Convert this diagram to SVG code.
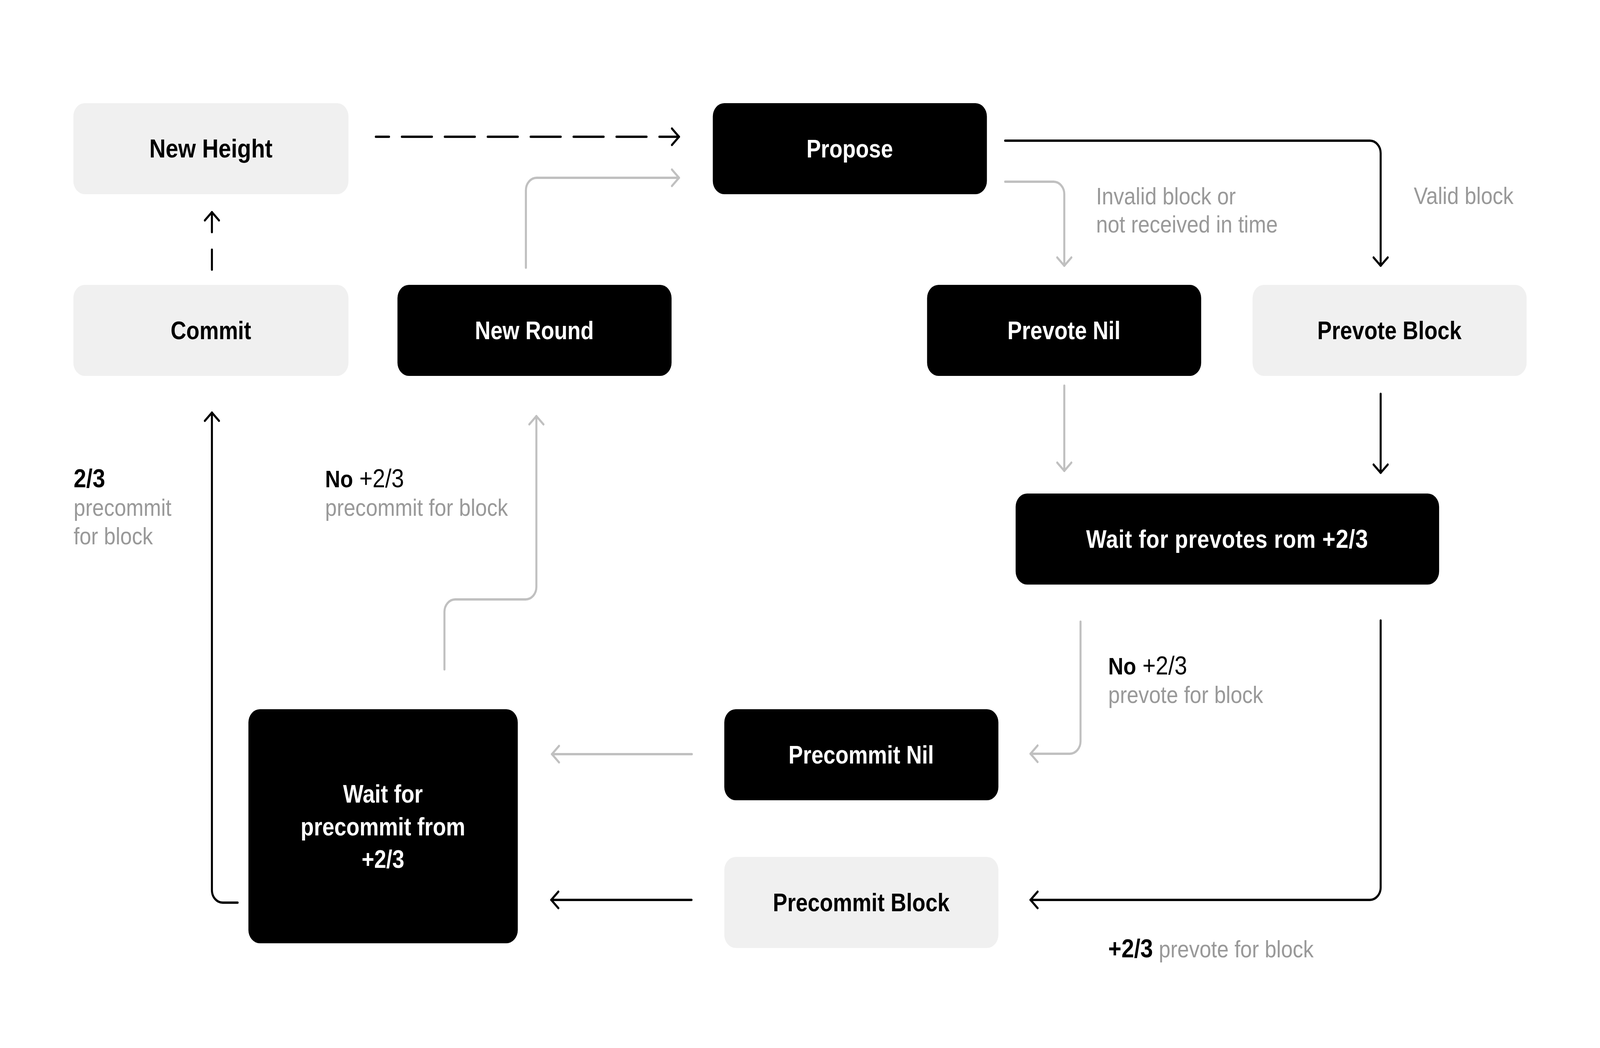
<svg xmlns="http://www.w3.org/2000/svg" width="4734" height="2682" viewBox="0 0 4734 2682" preserveAspectRatio="none">
<style>
svg{width:100vw;height:100vh}
.light{fill:#f0f0f0}
.dark{fill:#000}
.nt{font-family:"Liberation Sans",Arial,sans-serif;font-size:64px;font-weight:bold;text-anchor:middle}
.nt.w{fill:#fff}
.nt.b{fill:#000}
.lbl{font-family:"Liberation Sans",Arial,sans-serif;font-size:62px;fill:#999}
.bk{fill:#000}
.bold{font-weight:bold}
.num{font-size:67px}
.c{fill:none;stroke-width:6;stroke-linecap:round;stroke-linejoin:round}
.cb{stroke:#000;marker-end:url(#ab)}
.cg{stroke:#c0c0c0;marker-end:url(#ag)}
</style>
<defs>
<marker id="ab" markerUnits="userSpaceOnUse" viewBox="-30 -30 60 60" markerWidth="60" markerHeight="60" refX="0" refY="0" orient="auto">
<path d="M-21 -21 L0 0 L-21 21" fill="none" stroke="#000" stroke-width="6" stroke-linecap="round" stroke-linejoin="round"/>
</marker>
<marker id="ag" markerUnits="userSpaceOnUse" viewBox="-30 -30 60 60" markerWidth="60" markerHeight="60" refX="0" refY="0" orient="auto">
<path d="M-21 -21 L0 0 L-21 21" fill="none" stroke="#c0c0c0" stroke-width="6" stroke-linecap="round" stroke-linejoin="round"/>
</marker>
</defs>
<rect width="4734" height="2682" fill="#fff"/>
<g id="connectors">
<path class="c cb" d="M1112 350 H2009" stroke-dasharray="89 38" stroke-dashoffset="50"/>
<path class="c cb" d="M627 690 V543" stroke-dasharray="51 45"/>
<path class="c cg" d="M1556 685 V487 A32 32 0 0 1 1588 455 H2009"/>
<path class="c cb" d="M2974 360 H4053 A32 32 0 0 1 4085 392 V680"/>
<path class="c cg" d="M2974 465 H3117 A32 32 0 0 1 3149 497 V680"/>
<path class="c cg" d="M3149 987 V1205"/>
<path class="c cb" d="M4085 1008 V1210"/>
<path class="c cg" d="M3197 1591 V1897 A32 32 0 0 1 3165 1929 H3049"/>
<path class="c cb" d="M4085 1588 V2271 A32 32 0 0 1 4053 2303 H3049"/>
<path class="c cg" d="M2047 1930 H1633"/>
<path class="c cb" d="M2046 2303 H1631"/>
<path class="c cb" d="M703 2310 H659 A32 32 0 0 1 627 2278 V1056"/>
<path class="c cg" d="M1315 1713 V1566 A32 32 0 0 1 1347 1534 H1555 A32 32 0 0 0 1587 1502 V1065"/>
</g>
<g id="new-height"><rect class="light" x="217" y="264" width="814" height="233" rx="34"/><text class="nt b" x="624" y="403" style="font-size:67px">New Height</text></g>
<g id="propose"><rect class="dark" x="2109" y="264" width="811" height="233" rx="34"/><text class="nt w" x="2514" y="403">Propose</text></g>
<g id="commit"><rect class="light" x="217" y="729" width="814" height="233" rx="34"/><text class="nt b" x="624" y="868">Commit</text></g>
<g id="new-round"><rect class="dark" x="1176" y="729" width="811" height="233" rx="34"/><text class="nt w" x="1581" y="868">New Round</text></g>
<g id="prevote-nil"><rect class="dark" x="2743" y="729" width="811" height="233" rx="34"/><text class="nt w" x="3148" y="868">Prevote Nil</text></g>
<g id="prevote-block"><rect class="light" x="3706" y="729" width="811" height="233" rx="34"/><text class="nt b" x="4111" y="868">Prevote Block</text></g>
<g id="wait-prevotes"><rect class="dark" x="3005" y="1263" width="1253" height="233" rx="34"/><text class="nt w" x="3631" y="1402" style="letter-spacing:1px">Wait for prevotes rom <tspan class="num">+2/3</tspan></text></g>
<g id="precommit-nil"><rect class="dark" x="2143" y="1815" width="811" height="233" rx="34"/><text class="nt w" x="2548" y="1954">Precommit Nil</text></g>
<g id="precommit-block"><rect class="light" x="2143" y="2193" width="811" height="233" rx="34"/><text class="nt b" x="2548" y="2332">Precommit Block</text></g>
<g id="wait-precommit"><rect class="dark" x="735" y="1815" width="797" height="599" rx="34"/>
<text class="nt w" x="1133" y="2054">Wait for</text>
<text class="nt w" x="1133" y="2138">precommit from</text>
<text class="nt w" x="1133" y="2221">+2/3</text></g>
<g id="labels">
<text class="lbl" x="3243" y="523">Invalid block or</text>
<text class="lbl" x="3243" y="595">not received in time</text>
<text class="lbl" x="4183" y="522">Valid block</text>
<text class="lbl" x="218" y="1247"><tspan class="bk bold num">2/3</tspan></text>
<text class="lbl" x="218" y="1320">precommit</text>
<text class="lbl" x="218" y="1393">for block</text>
<text class="lbl" x="962" y="1247"><tspan class="bk bold">No</tspan><tspan class="bk num"> +2/3</tspan></text>
<text class="lbl" x="962" y="1320">precommit for block</text>
<text class="lbl" x="3279" y="1726"><tspan class="bk bold">No</tspan><tspan class="bk num"> +2/3</tspan></text>
<text class="lbl" x="3279" y="1799">prevote for block</text>
<text class="lbl" x="3279" y="2450"><tspan class="bk bold num">+2/3</tspan> prevote for block</text>
</g>
</svg>
